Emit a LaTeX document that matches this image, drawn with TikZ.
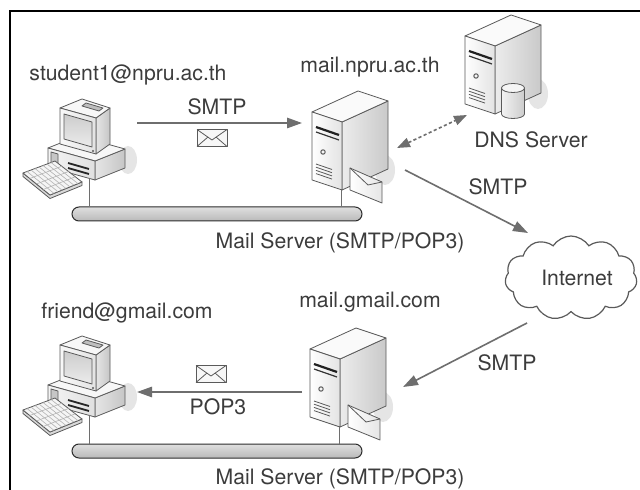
\documentclass[tikz,border=0pt]{standalone}
\usepackage{fontspec}
\setmainfont{TeX Gyre Heros}
\usetikzlibrary{arrows.meta,shapes.symbols,shapes.misc}

\definecolor{ink}{HTML}{3C3C3C}
\definecolor{wire}{HTML}{6E6E6E}
\definecolor{edge}{HTML}{5A5A5A}

\tikzset{
  face/.style={draw=edge, line width=0.4pt, line join=round},
  keyline/.style={draw=gray!60, line width=0.3pt},
  lbl/.style={text=ink, font=\fontsize{10.6}{12}\selectfont, inner sep=0pt},
  tip/.style={Triangle[length=7.5pt,width=5.2pt]},
  flow/.style={draw=wire, line width=0.8pt, -{Triangle[length=7.5pt,width=5.2pt]}},
  dnsflow/.style={draw=wire, line width=0.8pt, dash pattern=on 1.6pt off 1.2pt,
    {Triangle[length=6.5pt,width=4.8pt]}-{Triangle[length=6.5pt,width=4.8pt]}},
  drop/.style={draw=wire, line width=0.5pt},
  busbar/.style={rounded rectangle, draw=gray!35!black, line width=0.5pt,
    top color=gray!25, bottom color=gray!55, minimum width=145pt,
    minimum height=7pt, inner sep=0pt},
  % desktop computer with CRT monitor and keyboard
  pc/.pic={
    \fill[gray!20] (128,160) ellipse[x radius=9, y radius=14];
    % case
    \draw[face, left color=gray!20, right color=gray!45] (95,161) -- (125,149) -- (125,168) -- (95,180) -- cycle;
    \draw[face, fill=gray!6] (48,148) -- (95,161) -- (125,149) -- (78,136) -- cycle;
    \draw[face, left color=gray!8, right color=gray!25] (48,148) -- (95,161) -- (95,180) -- (48,167) -- cycle;
    \draw[face, fill=gray!45] (51,152) -- (58,154) -- (58,167) -- (51,165) -- cycle;
    \draw[gray!30!black, line width=0.9pt] (68,163) -- (89,169);
    \draw[gray!30!black, line width=0.9pt] (68,168) -- (89,174);
    % monitor
    \draw[face, left color=gray!20, right color=gray!45] (96,118) -- (110,108) -- (110,144) -- (96,154) -- cycle;
    \draw[face, fill=gray!6] (60,108) -- (96,118) -- (110,108) -- (82,99) -- cycle;
    \draw[face, fill=gray!50] (86,103) -- (103,108) -- (99,111) -- (82,106) -- cycle;
    \draw[face, left color=gray!5, right color=gray!22] (60,108) -- (96,118) -- (96,154) -- (60,144) -- cycle;
    \draw[face, top color=gray!40, bottom color=gray!15] (64,114) -- (92,122) -- (92,147) -- (64,139) -- cycle;
    \fill[edge] (93,151) circle[radius=1.2];
    % keyboard
    \draw[face, fill=gray!30] (23,173) -- (50,195) -- (82,182) -- (82,185.5) -- (50,198.5) -- (23,176.5) -- cycle;
    \draw[face, fill=gray!8] (23,173) -- (55,161) -- (82,182) -- (50,195) -- cycle;
    \foreach \t in {0.125,0.25,...,0.9}
      \draw[keyline] ({23+32*\t},{173-12*\t}) -- ({50+32*\t},{195-13*\t});
    \foreach \s in {0.25,0.5,0.75}
      \draw[keyline] ({23+27*\s},{173+22*\s}) -- ({55+27*\s},{161+21*\s});
    \coordinate (-hi) at (137,123);
    \coordinate (-lo) at (137,155);
    \coordinate (-jack) at (89,178.3);
  },
  % tower server body, origin at the front top-left corner
  tower/.pic={
    \fill[gray!20] (73,58) ellipse[x radius=10, y radius=15];
    \draw[face, left color=gray!15, right color=gray!42] (30,10) -- (76,-11) -- (76,57) -- (30,78) -- cycle;
    \draw[face, fill=gray!4] (0,0) -- (30,10) -- (76,-11) -- (46,-21) -- cycle;
    \draw[face, left color=white, right color=gray!22] (0,0) -- (30,10) -- (30,78) -- (0,68) -- cycle;
    \draw[gray!25!black, line width=1.1pt] (4,15) -- (27,23);
    \draw[gray!40!black, line width=0.6pt] (4,20) -- (27,28);
    \draw[edge, line width=0.5pt] (11,40) circle[radius=2.2];
    \foreach \k in {0,...,3}
      \draw[edge, line width=0.4pt] (4,{52+3.2*\k}) -- (20,{57.5+3.2*\k});
    \coordinate (-jack) at (29,77.7);
  },
  mailserver/.pic={
    \pic {tower};
    \draw[face, left color=white, right color=gray!20] (38,56) -- (70,70) -- (70,91) -- (38,78) -- cycle;
    \draw[face] (38,56) -- (56,73) -- (70,70);
    \coordinate (-jack) at (29,77.7);
    \coordinate (-whi) at (-10,11);
    \coordinate (-wlo) at (-8,43);
    \coordinate (-ne) at (85,36);
    \coordinate (-eout) at (93,58);
    \coordinate (-ein) at (93,38);
  },
  dnsserver/.pic={
    \pic {tower};
    \draw[face, left color=gray!10, right color=gray!40] (36.5,52) -- (36.5,78)
      arc[start angle=180, end angle=0, x radius=11.5, y radius=4.5] -- (59.5,52) -- cycle;
    \draw[face, fill=gray!8] (48,52) ellipse[x radius=11.5, y radius=4.5];
    \coordinate (-sw) at (2,79);
  },
  % small envelope drawn beside a transfer arrow
  letter/.pic={
    \draw[face, fill=gray!6] (-15,-8.5) rectangle (15,8.5);
    \draw[face] (-15,-8.5) -- (0,2) -- (15,-8.5);
    \draw[face] (-15,8.5) -- (-4,-1);
    \draw[face] (15,8.5) -- (4,-1);
  }
}

\begin{document}
\begin{tikzpicture}[x=0.5pt,y=-0.5pt]
  \useasboundingbox (0,0) rectangle (640,490);
  \fill[white] (0,0) rectangle (640,490);

  % sending side
  \node[busbar] (bus1) at (217,214) {};
  \pic (pc1) at (0,0) {pc};
  \pic (srv1) at (312,112) {mailserver};
  \pic (dns) at (465,36) {dnsserver};
  \draw[drop] (pc1-jack) -- (pc1-jack |- bus1.north);
  \draw[drop] (srv1-jack) -- (srv1-jack |- bus1.north);

  % receiving side
  \node[busbar] (bus2) at (217,451) {};
  \pic (pc2) at (0,237) {pc};
  \pic (srv2) at (310,349) {mailserver};
  \draw[drop] (pc2-jack) -- (pc2-jack |- bus2.north);
  \draw[drop] (srv2-jack) -- (srv2-jack |- bus2.north);

  % internet
  \node[cloud, draw=edge, fill=white, line width=0.6pt, cloud puffs=11,
        cloud puff arc=115, minimum width=66pt, minimum height=42pt,
        inner sep=0pt] (net) at (571,278) {};
  \node[lbl] (netlabel) at (577,278) {Internet};
  \coordinate (netin) at (528,233);
  \coordinate (netout) at (527,323);

  % message flow
  \draw[flow] (pc1-hi) -- (srv1-whi);
  \draw[dnsflow] (srv1-ne) -- (dns-sw);
  \draw[flow] (srv1-eout) -- (netin);
  \draw[flow] (netout) -- (srv2-ein);
  \draw[flow] (srv2-wlo) -- (pc2-lo);
  \pic (env1) at (212,138) {letter};
  \pic (env2) at (211,374) {letter};

  % labels
  \node[lbl] (l1) at (128,75) {student1@npru.ac.th};
  \node[lbl] (l2) at (217,107) {SMTP};
  \node[lbl] (l3) at (370,67) {mail.npru.ac.th};
  \node[lbl] (l4) at (531,140) {DNS Server};
  \node[lbl] (l5) at (498,187) {SMTP};
  \node[lbl] (l6) at (340,243) {Mail Server (SMTP/POP3)};
  \node[lbl] (l7) at (370,302) {mail.gmail.com};
  \node[lbl] (l8) at (127,313) {friend@gmail.com};
  \node[lbl] (l9) at (507,363) {SMTP};
  \node[lbl] (l10) at (218,407) {POP3};
  \node[lbl] (l11) at (340,479) {Mail Server (SMTP/POP3)};

  % frame
  \draw[line width=1.3pt] (640,11) -- (10,11) -- (10,490);
\end{tikzpicture}
\end{document}
